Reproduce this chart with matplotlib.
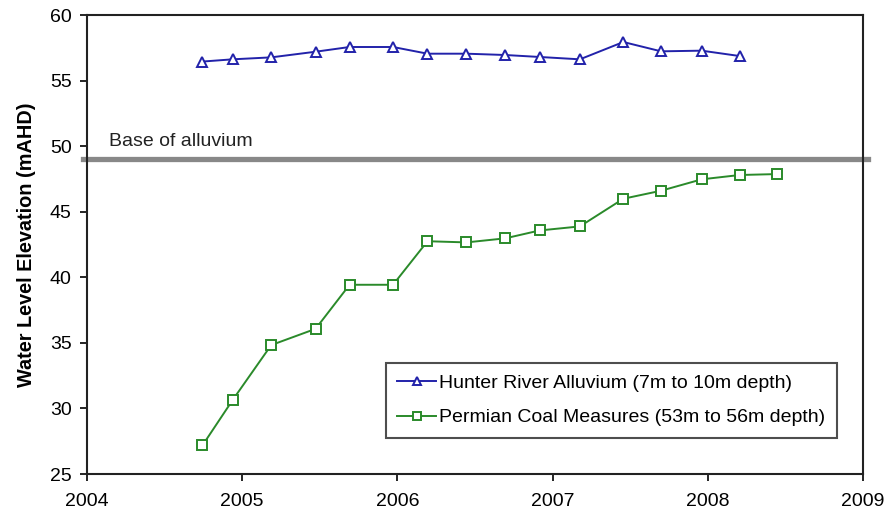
import matplotlib
matplotlib.use("Agg")
import matplotlib.pyplot as plt

plt.rcParams['font.family'] = ['Liberation Sans', 'DejaVu Sans']

hunter_x = [2004.744, 2004.938, 2005.187, 2005.473, 2005.692, 2005.972, 2006.194,
            2006.445, 2006.695, 2006.916, 2007.176, 2007.456, 2007.699, 2007.961, 2008.206]
hunter_y = [56.45, 56.62, 56.77, 57.2, 57.56, 57.56, 57.05,
            57.05, 56.95, 56.8, 56.62, 57.94, 57.23, 57.28, 56.87]

permian_x = [2004.744, 2004.938, 2005.187, 2005.473, 2005.692, 2005.972, 2006.194,
             2006.445, 2006.695, 2006.916, 2007.176, 2007.456, 2007.699, 2007.961,
             2008.206, 2008.445]
permian_y = [27.18, 30.63, 34.83, 36.07, 39.43, 39.43, 42.75,
             42.66, 42.97, 43.57, 43.88, 45.99, 46.6, 47.47, 47.8, 47.87]

base_alluvium = 49.0
x_ticks = [2004, 2005, 2006, 2007, 2008, 2009]
y_ticks = [25, 30, 35, 40, 45, 50, 55, 60]

fig = plt.figure(figsize=(8.84, 5.12), dpi=100)
ax = fig.add_axes([0.0984, 0.0742, 0.8778, 0.8965])

ax.plot(hunter_x, hunter_y, color='#2222aa', lw=1.4, marker='^', ms=7.5,
        mfc='white', mec='#2222aa', mew=1.4,
        label='Hunter River Alluvium (7m to 10m depth)', zorder=3)
ax.plot(permian_x, permian_y, color='#2a8a2a', lw=1.4, marker='s', ms=7.5,
        mfc='white', mec='#2a8a2a', mew=1.4,
        label='Permian Coal Measures (53m to 56m depth)', zorder=3)

ax.axhline(base_alluvium, xmin=-0.005, xmax=1.006, color='#888888', lw=3.8,
           clip_on=False, zorder=2)
ax.text(2004.14, 50.35, 'Base of alluvium', fontsize=14, color='#222222',
        va='center', ha='left')

ax.set_xlim(2004, 2009)
ax.set_ylim(25, 60)
ax.set_xticks(x_ticks)
ax.set_yticks(y_ticks)
ax.tick_params(direction='out', length=5, width=1.2, labelsize=14)
ax.tick_params(axis='x', pad=9)
ax.tick_params(axis='y', pad=6)
for s in ax.spines.values():
    s.set_linewidth(1.5)
    s.set_color('#222222')
ax.set_ylabel('Water Level Elevation (mAHD)', fontsize=14.3, fontweight='bold',
              labelpad=10)

leg = ax.legend(loc='lower right', bbox_to_anchor=(0.9665, 0.0784), fontsize=14,
                frameon=True, fancybox=False, edgecolor='#222222',
                handlelength=2.0, handletextpad=0.15, borderpad=0.6,
                labelspacing=0.85, borderaxespad=0, markerscale=0.75)
leg.get_frame().set_linewidth(1.5)

fig.savefig('out.png', dpi=100)
